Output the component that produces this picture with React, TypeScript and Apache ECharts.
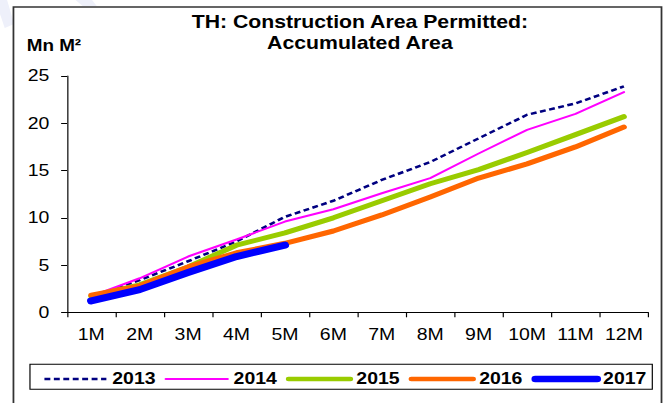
import React, { useEffect, useRef } from "react";
import * as echarts from "echarts";

const categories = ["1M", "2M", "3M", "4M", "5M", "6M", "7M", "8M", "9M", "10M", "11M", "12M"];
const seriesNames = ["2013", "2014", "2015", "2016", "2017"];
const s2013 = [1.6, 3.4, 5.4, 7.5, 10.1, 11.8, 14.0, 15.9, 18.4, 20.9, 22.1, 23.9];
const s2014 = [1.7, 3.6, 5.9, 7.7, 9.6, 10.9, 12.6, 14.2, 16.8, 19.3, 21.0, 23.3];
const s2015 = [1.7, 2.9, 4.8, 7.1, 8.4, 10.0, 11.8, 13.6, 15.1, 16.9, 18.8, 20.7];
const s2016 = [1.8, 2.8, 4.8, 6.3, 7.3, 8.6, 10.3, 12.2, 14.2, 15.7, 17.5, 19.6];
const s2017 = [1.2, 2.4, 4.2, 5.9, 7.1];
const yTicks = { min: 0, max: 25, interval: 5 };
const titleLines = ["TH: Construction Area Permitted:", "Accumulated Area"];
const unitLabel = "Mn M²";

const FONT = "'Liberation Sans', Arial, sans-serif";
const SX = 1.18; // reference picture is horizontally stretched
const W = 669 / SX;
const H = 403;

export default function App() {
  const ref = useRef<HTMLDivElement>(null);
  useEffect(() => {
    if (!ref.current) return;
    const chart = echarts.init(ref.current, null, { renderer: "svg" });
    const styles = [
      { color: "#000080", width: 2.5, legendWidth: 2.5, type: [5, 3] as any, cap: "butt" },
      { color: "#FF00FF", width: 2, legendWidth: 2, type: "solid", cap: "round" },
      { color: "#99CC00", width: 5, legendWidth: 4.5, type: "solid", cap: "round" },
      { color: "#FF6600", width: 5, legendWidth: 4.5, type: "solid", cap: "round" },
      { color: "#0000FF", width: 7, legendWidth: 6.5, type: "solid", cap: "round" },
    ];
    const datas = [s2013, s2014, s2015, s2016, s2017];
    chart.setOption({
      animation: false,
      backgroundColor: "#ffffff",
      grid: { left: 56.8, right: W - 549.2, top: 76, bottom: H - 312.3, containLabel: false },
      xAxis: {
        type: "category",
        data: categories,
        boundaryGap: true,
        axisLine: { show: true, lineStyle: { color: "#000", width: 1 } },
        axisTick: { show: true, length: 5, lineStyle: { color: "#000" } },
        axisLabel: { color: "#000", fontSize: 16.5, fontFamily: FONT, margin: 14, interval: 0 },
        splitLine: { show: false },
      },
      yAxis: {
        type: "value",
        min: yTicks.min,
        max: yTicks.max,
        interval: yTicks.interval,
        axisLine: { show: true, lineStyle: { color: "#000", width: 1 } },
        axisTick: { show: true, length: 5, lineStyle: { color: "#000" } },
        axisLabel: { color: "#000", fontSize: 16.5, fontFamily: FONT, margin: 15 },
        splitLine: { show: false },
      },
      legend: {
        data: seriesNames.map((name, i) => ({
          name,
          itemStyle: { opacity: 0, color: "transparent", borderWidth: 0 },
          lineStyle: {
            color: styles[i].color,
            width: styles[i].legendWidth,
            type: styles[i].type,
            cap: styles[i].cap,
          },
        })),
        left: 36.4,
        top: 370.5,
        padding: 0,
        itemWidth: 52.5,
        itemHeight: 14,
        itemGap: 7.6,
        itemStyle: { opacity: 0 },
        textStyle: { color: "#000", fontSize: 16.5, fontWeight: "bold", fontFamily: FONT, lineHeight: 14 },
      },
      series: seriesNames.map((name, i) => ({
        name,
        type: "line",
        data: datas[i],
        symbol: "none",
        smooth: false,
        z: 2 + i,
        lineStyle: {
          color: styles[i].color,
          width: styles[i].width,
          type: styles[i].type,
          cap: styles[i].cap,
          join: "round",
        },
        itemStyle: { color: styles[i].color },
      })),
      graphic: [
        {
          type: "polygon",
          silent: true,
          shape: { points: [[0, 0], [6, 0], [12, 24], [4, 28], [0, 14]] },
          style: { fill: "#eef0fa" },
        },
        {
          type: "polygon",
          silent: true,
          shape: { points: [[64, 0], [78, 0], [82, 6], [70, 6]] },
          style: { fill: "#eef0fa" },
        },
        {
          type: "rect",
          silent: true,
          shape: { x: 11.4, y: 7, width: 549.2, height: 430 },
          style: { fill: "none", stroke: "#333", lineWidth: 1.5 },
        },
        {
          type: "rect",
          silent: true,
          shape: { x: 25.4, y: 364.3, width: 527.4, height: 25 },
          style: { fill: "none", stroke: "#000", lineWidth: 1 },
        },
        {
          type: "text",
          x: 305,
          y: 21.7,
          style: {
            text: titleLines[0],
            font: `bold 18px ${FONT}`,
            fill: "#000",
            textAlign: "center",
            textVerticalAlign: "middle",
          },
        },
        {
          type: "text",
          x: 305,
          y: 42.7,
          style: {
            text: titleLines[1],
            font: `bold 18px ${FONT}`,
            fill: "#000",
            textAlign: "center",
            textVerticalAlign: "middle",
          },
        },
        {
          type: "text",
          x: 22.6,
          y: 45.3,
          style: {
            text: unitLabel,
            font: `bold 16px ${FONT}`,
            fill: "#000",
            textAlign: "left",
            textVerticalAlign: "middle",
          },
        },
      ],
    });
    return () => chart.dispose();
  }, []);
  return (
    <div
      style={{
        position: "fixed",
        left: 0,
        top: 0,
        width: 669,
        height: 403,
        overflow: "hidden",
        background: "#fff",
      }}
    >
      <div
        ref={ref}
        style={{
          width: W,
          height: H,
          transform: `scaleX(${SX})`,
          transformOrigin: "0 0",
        }}
      />
    </div>
  );
}
